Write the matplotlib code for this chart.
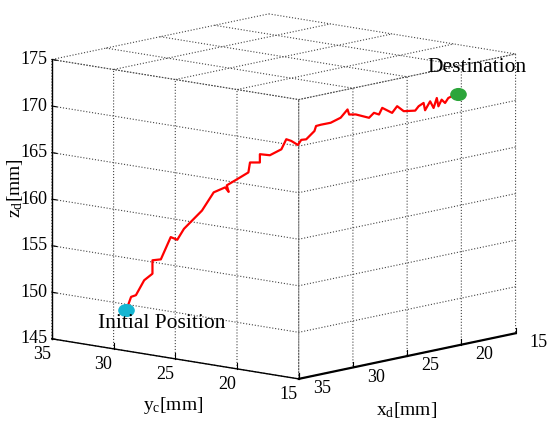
import matplotlib
matplotlib.use('Agg')
import matplotlib.pyplot as plt
from matplotlib.path import Path
from matplotlib.transforms import Affine2D

# trajectory (mm)
x_vals = [33.90, 33.67, 33.43, 33.02, 32.61, 32.61, 32.20, 31.71, 31.38, 31.05,
          30.16, 29.58, 29.01, 28.84, 28.93, 28.35, 27.86, 27.78, 27.29, 27.29,
          26.80, 26.23, 25.98, 25.74, 25.41, 25.24, 25.00, 24.59, 24.51, 24.28,
          23.79, 23.29, 22.95, 22.87, 22.54, 21.89, 21.64, 21.39, 21.23, 20.74,
          20.49, 20.17, 19.60, 19.43, 19.18, 19.11, 18.86, 18.69, 18.53, 18.45,
          18.29, 18.12, 17.96, 17.80, 17.50]
y_vals = [29.93, 29.75, 29.57, 29.26, 28.95, 28.95, 28.63, 28.26, 28.02, 27.77,
          27.09, 26.65, 26.22, 26.09, 26.16, 25.72, 25.35, 25.29, 24.92, 24.92,
          24.54, 24.11, 23.93, 23.74, 23.49, 23.37, 23.18, 22.87, 22.81, 22.63,
          22.26, 21.89, 21.63, 21.57, 21.32, 20.82, 20.64, 20.45, 20.33, 19.96,
          19.77, 19.52, 19.09, 18.96, 18.78, 18.72, 18.53, 18.40, 18.28, 18.22,
          18.10, 17.97, 17.85, 17.72, 17.50]
z_vals = [148.93, 150.31, 150.47, 152.04, 152.71, 154.15, 154.22, 156.57, 156.25, 157.40,
          159.29, 161.20, 161.69, 161.19, 161.90, 162.60, 163.20, 164.26, 164.22, 165.11,
          164.96, 165.55, 166.61, 166.41, 165.95, 166.48, 166.52, 167.38, 167.91, 168.03,
          168.20, 168.70, 169.56, 169.01, 168.99, 168.58, 169.09, 168.89, 169.59, 169.01,
          169.71, 169.15, 169.16, 169.62, 169.95, 169.16, 170.10, 169.37, 170.43, 169.53,
          170.23, 169.86, 170.38, 170.55, 170.77]

x_ticks = [15, 20, 25, 30, 35]
y_ticks = [15, 20, 25, 30, 35]
z_ticks = [145, 150, 155, 160, 165, 170, 175]

plt.rcParams['font.family'] = ['Liberation Serif', 'DejaVu Serif']
plt.rcParams['mathtext.fontset'] = 'custom'
plt.rcParams['mathtext.rm'] = 'Liberation Serif'
plt.rcParams['mathtext.it'] = 'Liberation Serif:italic'
plt.rcParams['grid.linestyle'] = ':'
plt.rcParams['grid.color'] = '#444444'
plt.rcParams['grid.linewidth'] = 0.8

fig = plt.figure(figsize=(5.47, 4.23), dpi=100)
ax = fig.add_axes([4.5 / 547, 9.4 / 423, 1, 1], projection='3d', proj_type='ortho')
ax.view_init(elev=-10.65, azim=138.7)
ax.set_box_aspect((1, 1, 0.865), zoom=1.25)
ax.set_xlim(15, 35)
ax.set_ylim(15, 35)
ax.set_zlim(145, 175)
ax.set_xticks(x_ticks)
ax.set_yticks(y_ticks)
ax.set_zticks(z_ticks)

for axis in (ax.xaxis, ax.yaxis, ax.zaxis):
    axis.set_pane_color((1, 1, 1, 0))
    axis.pane.set_edgecolor('none')
    axis.line.set_color('black')
    axis.line.set_linewidth(1.0)
    axis._axinfo['grid'].update(color='#444444', linestyle=':', linewidth=0.8)
    axis._axinfo['tick']['outward_factor'] = 0.25
    axis._axinfo['tick']['inward_factor'] = 0.0
ax.xaxis.set_ticks_position('lower')
ax.yaxis.set_ticks_position('lower')
ax.zaxis.set_ticks_position('upper')
ax.xaxis.line.set_linewidth(1.6)

ax.xaxis.set_tick_params(labelsize=13, pad=1.0)
ax.yaxis.set_tick_params(labelsize=13, pad=-0.5)
ax.zaxis.set_tick_params(labelsize=13, pad=-6.5)
for t in ax.xaxis.get_major_ticks():
    t.label1.set_ha('left')
    t.label1.set_va('bottom')
for t in ax.yaxis.get_major_ticks():
    t.label1.set_ha('center')
    t.label1.set_va('center')
for t in ax.zaxis.get_major_ticks():
    t.label1.set_ha('right')
    t.label1.set_va('center')

ax.plot(x_vals, y_vals, z_vals, color='red', lw=1.6)

ellipse = Path.unit_circle().transformed(Affine2D().scale(1.0, 0.77))
ax.scatter([x_vals[0]], [y_vals[0]], [z_vals[0]], marker=ellipse, s=120,
           color='#14b6d2', depthshade=False)
ax.scatter([x_vals[-1]], [y_vals[-1]], [z_vals[-1]], marker=ellipse, s=120,
           color='#2ca53a', depthshade=False)

fig.text(407 / 547, 1 - 410 / 423, r'x$_{\rm d}$[mm]', fontsize=14,
         ha='center', va='center')
fig.text(173 / 547, 1 - 405 / 423, r'y$_{\rm c}$[mm]', fontsize=14,
         ha='center', va='center')
fig.text(15 / 547, 1 - 188 / 423, r'z$_{\rm d}$[mm]', fontsize=14,
         ha='center', va='center', rotation=90)

fig.text(162 / 547, 1 - 323 / 423, 'Initial Position', fontsize=15.5,
         ha='center', va='center')
fig.text(477 / 547, 1 - 68 / 423, 'Destination', fontsize=15.5,
         ha='center', va='center')

fig.savefig('out.png', dpi=100)
